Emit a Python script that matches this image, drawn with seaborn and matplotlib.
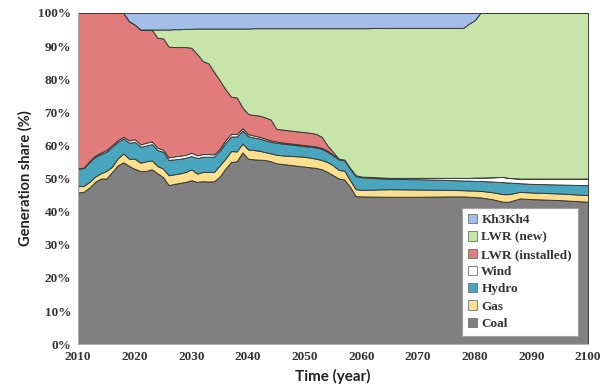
import numpy as np
import matplotlib
matplotlib.use("Agg")
import matplotlib.pyplot as plt
from matplotlib.patches import Patch
from matplotlib.ticker import MultipleLocator, FuncFormatter
import seaborn as sns

# years: annual up to 2060, then at the break points of the curves
years = list(range(2010, 2061)) + [2065, 2070, 2075, 2078, 2079, 2080, 2081,
                                   2083, 2085, 2086, 2088, 2090, 2095, 2100]

# upper edge of each layer (cumulative %)
top_coal = [45.8, 46.0, 47.3, 49.0, 50.0, 50.0, 52.0, 54.0, 54.9, 53.8,
            52.9, 52.3, 52.3, 52.8, 51.6, 50.4, 48.0, 48.4, 48.7, 49.0,
            49.5, 49.0, 49.2, 49.1, 49.2, 50.6, 53.0, 55.0, 55.2, 57.9,
            56.0, 55.8, 55.7, 55.6, 55.2, 54.6, 54.4, 54.2, 54.0, 53.8,
            53.6, 53.4, 53.2, 52.8, 52.0, 51.0, 50.0, 49.7, 47.5, 44.7,
            44.6,
            44.5, 44.5, 44.6, 44.6, 44.5, 44.4, 44.3, 43.8, 43.0, 43.0, 44.0, 43.8, 43.5, 43.0]
top_gas = [47.7, 47.8, 49.0, 50.6, 51.6, 52.3, 53.6, 56.1, 57.6, 56.0,
           56.0, 54.8, 55.2, 55.5, 53.8, 53.0, 51.0, 51.3, 51.6, 52.0,
           52.8, 51.5, 52.0, 52.0, 52.0, 54.0, 56.0, 58.3, 58.2, 60.6,
           58.8, 58.6, 58.4, 58.0, 57.6, 57.2, 57.0, 56.9, 56.8, 56.7,
           56.6, 56.3, 56.0, 55.6, 55.0, 54.0, 52.6, 52.4, 49.5, 46.8,
           46.6,
           46.8, 46.7, 46.6, 46.5, 46.4, 46.4, 46.3, 45.9, 45.3, 45.3, 46.0, 45.8, 45.5, 45.0]
top_hydro = [53.0, 53.2, 55.0, 56.6, 57.4, 58.1, 59.6, 61.1, 62.1, 60.8,
             61.1, 59.6, 60.0, 60.4, 58.6, 58.1, 55.6, 55.8, 56.0, 56.3,
             56.8, 56.2, 56.6, 56.6, 56.6, 58.4, 60.8, 62.7, 62.7, 64.5,
             62.8, 62.4, 62.1, 61.6, 61.1, 60.8, 60.6, 60.4, 60.2, 60.0,
             59.8, 59.6, 59.4, 59.0, 58.1, 57.0, 55.8, 55.5, 53.0, 50.8,
             50.4,
             49.9, 49.8, 49.6, 49.4, 49.4, 49.3, 49.3, 49.1, 48.9, 48.8, 48.6, 48.4, 48.2, 48.0]
top_wind = [53.1, 53.3, 55.3, 56.9, 57.8, 58.6, 60.1, 61.6, 62.6, 61.5,
            61.9, 60.3, 60.8, 61.2, 59.3, 58.7, 56.4, 56.7, 56.9, 57.2,
            57.8, 57.0, 57.4, 57.4, 57.3, 59.0, 61.6, 63.5, 63.4, 65.2,
            63.4, 63.0, 62.6, 62.1, 61.5, 61.2, 60.9, 60.7, 60.5, 60.3,
            60.1, 59.9, 59.7, 59.3, 58.4, 57.2, 56.0, 55.7, 53.2, 51.0,
            50.6,
            50.2, 50.2, 50.2, 50.2, 50.2, 50.3, 50.3, 50.4, 50.5, 50.2, 50.0, 50.0, 50.0, 50.0]
top_lwr_installed = [100, 100, 100, 100, 100, 100, 100, 100, 100, 97.5,
                     96.5, 95.0, 95.0, 95.0, 92.5, 92.3, 89.8, 89.7, 89.7, 89.7,
                     89.5, 87.6, 85.5, 84.8, 82.2, 79.6, 77.0, 74.7, 74.5, 71.5,
                     69.5, 69.2, 69.0, 68.5, 67.8, 65.0, 64.8, 64.6, 64.4, 64.2,
                     64.0, 63.8, 63.5, 62.6, 60.0, 58.0, 56.0, 55.7, 0, 0,
                     0,
                     0, 0, 0, 0, 0, 0, 0, 0, 0, 0, 0, 0, 0, 0]
top_lwr_new = [100, 100, 100, 100, 100, 100, 100, 100, 100, 97.5,
               96.5, 95.0, 95.0, 95.0, 95.0, 95.0, 95.0, 95.1, 95.1, 95.2,
               95.2, 95.3, 95.3, 95.3, 95.3, 95.3, 95.3, 95.3, 95.3, 95.3,
               95.3, 95.4, 95.4, 95.4, 95.4, 95.4, 95.4, 95.4, 95.4, 95.4,
               95.4, 95.4, 95.4, 95.4, 95.4, 95.4, 95.4, 95.4, 95.4, 95.4,
               95.4,
               95.5, 95.5, 95.5, 95.5, 96.8, 97.8, 100, 100, 100, 100, 100, 100, 100, 100]

labels = ["Coal", "Gas", "Hydro", "Wind", "LWR (installed)", "LWR (new)", "Kh3Kh4"]
colors = ["#808080", "#FADF8E", "#4AA6BF", "#FFFFFF", "#E27C7B", "#C7E5A8", "#A3BFE8"]

x = np.array(years)
c, g, h, w = (np.array(a) for a in (top_coal, top_gas, top_hydro, top_wind))
red_top = np.maximum(np.array(top_lwr_installed, dtype=float), w)
green_top = np.array(top_lwr_new, dtype=float)
shares = [c, g - c, h - g, w - h, red_top - w, green_top - red_top, 100 - green_top]

sns.set_theme(style="white")
plt.rcParams["font.family"] = ["Liberation Serif", "DejaVu Serif"]

fig, ax = plt.subplots(figsize=(6.1, 3.92), dpi=100)
fig.subplots_adjust(left=0.128, right=0.964, top=0.967, bottom=0.122)

ax.stackplot(x, shares, colors=colors, edgecolor="#3a3a3a", linewidth=0.7)

ax.set_xlim(2010, 2100)
ax.set_ylim(0, 100)
ax.xaxis.set_major_locator(MultipleLocator(10))
ax.xaxis.set_minor_locator(MultipleLocator(5))
ax.yaxis.set_major_locator(MultipleLocator(10))
ax.yaxis.set_major_formatter(FuncFormatter(lambda v, p: f"{int(v)}%"))
ax.tick_params(axis="both", which="both", direction="out", color="#b0b0b0",
               length=3, width=0.8, labelsize=9.5, pad=2)
for lab in ax.get_xticklabels() + ax.get_yticklabels():
    lab.set_fontweight("bold")
    lab.set_color("#333333")

sns.despine(ax=ax)
for side in ("left", "bottom"):
    ax.spines[side].set_color("#b0b0b0")
    ax.spines[side].set_linewidth(0.8)

ax.set_xlabel("Time (year)", family=["Lato", "DejaVu Sans"], fontweight="bold",
              fontsize=11, labelpad=4, color="#222222")
ax.set_ylabel("Generation share (%)", family=["Lato", "DejaVu Sans"], fontweight="bold",
              fontsize=10.5, labelpad=4, color="#222222")

handles = [Patch(facecolor=col, edgecolor="#707070", linewidth=0.6, label=lab)
           for col, lab in zip(colors, labels)][::-1]
leg = ax.legend(handles=handles, loc="lower right", bbox_to_anchor=(0.98, 0.025),
                borderaxespad=0, frameon=True, fancybox=False, framealpha=1,
                facecolor="white", handlelength=0.7, handleheight=0.7,
                handletextpad=0.3, labelspacing=0.38,
                prop={"family": ["Liberation Serif"], "weight": "bold", "size": 9.5},
                borderpad=0.45)
leg.get_frame().set_edgecolor("#a0a0a0")
leg.get_frame().set_linewidth(0.8)
for t in leg.get_texts():
    t.set_color("#333333")

fig.savefig("out.png", dpi=100)
